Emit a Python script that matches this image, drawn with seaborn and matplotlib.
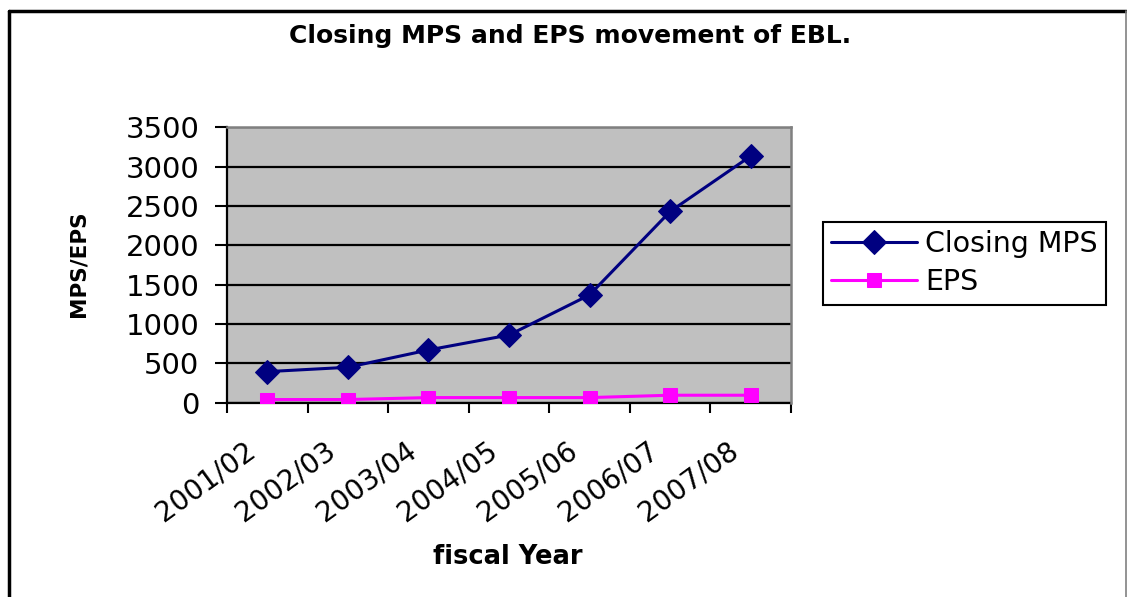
import matplotlib
matplotlib.use("Agg")
import matplotlib.pyplot as plt
import matplotlib.transforms as mtransforms
from matplotlib.lines import Line2D
import seaborn as sns
import pandas as pd

# ---- data ----
years = ["2001/02", "2002/03", "2003/04", "2004/05", "2005/06", "2006/07", "2007/08"]
closing_mps = [395, 450, 670, 860, 1370, 2430, 3135]
eps = [40, 40, 65, 65, 65, 95, 95]
series_names = ["Closing MPS", "EPS"]
y_ticks = [0, 500, 1000, 1500, 2000, 2500, 3000, 3500]

title_text = "Closing MPS and EPS movement of EBL."
x_label = "fiscal Year"
y_label = "MPS/EPS"

df = pd.DataFrame({
    "year": years * 2,
    "value": closing_mps + eps,
    "series": [series_names[0]] * len(years) + [series_names[1]] * len(years),
})

sns.set_theme(style="white")
plt.rcParams["font.family"] = ["DejaVu Sans"]
plt.rcParams["text.color"] = "black"
plt.rcParams["axes.labelcolor"] = "black"
plt.rcParams["xtick.color"] = "black"
plt.rcParams["ytick.color"] = "black"

fig = plt.figure(figsize=(11.27, 5.97), dpi=100)
W, H = 1127, 597
ax = fig.add_axes([227 / W, 1 - 402.7 / H, (791 - 227) / W, (402.7 - 127.3) / H])
ax.set_facecolor("#C0C0C0")

palette = {"Closing MPS": "#000080", "EPS": "#FF00FF"}
markers = {"Closing MPS": "D", "EPS": "s"}
sizes = {"Closing MPS": 12, "EPS": 10.5}

for name in series_names:
    sub = df[df["series"] == name]
    sns.lineplot(data=sub, x="year", y="value", ax=ax, color=palette[name],
                 marker=markers[name], markersize=sizes[name],
                 markeredgecolor=palette[name], linewidth=2.2,
                 label=name, sort=False, zorder=3)

ax.set_xlim(-0.5, len(years) - 0.5)
ax.set_ylim(0, 3500)
ax.set_yticks(y_ticks)
ax.set_yticklabels([str(t) for t in y_ticks])

# grid
ax.set_axisbelow(True)
ax.yaxis.grid(True, color="black", linewidth=1.6)
ax.xaxis.grid(False)

# spines
for s in ["left", "bottom"]:
    ax.spines[s].set_color("black")
    ax.spines[s].set_linewidth(1.6)
for s in ["top", "right"]:
    ax.spines[s].set_color("#808080")
    ax.spines[s].set_linewidth(1.8)
    ax.spines[s].set_zorder(2.6)

# ticks
ax.tick_params(axis="y", which="major", direction="out", length=9, width=1.5,
               color="black", labelsize=21, pad=11, left=True, labelcolor="black")
ax.set_xticks(range(len(years)))
ax.set_xticklabels(years)
ax.set_xticks([i - 0.5 for i in range(len(years) + 1)], minor=True)
ax.tick_params(axis="x", which="major", length=0, labelsize=20, pad=32,
               labelcolor="black")
ax.tick_params(axis="x", which="minor", direction="out", length=7, width=1.5,
               color="black", bottom=True)
offset = mtransforms.ScaledTranslation(-0.15, 0, fig.dpi_scale_trans)
for lab in ax.get_xticklabels():
    lab.set_rotation(36)
    lab.set_ha("right")
    lab.set_va("center")
    lab.set_rotation_mode("anchor")
    lab.set_transform(lab.get_transform() + offset)

# axis labels
ax.set_xlabel(x_label, fontsize=18.5, fontweight="bold", color="black")
ax.xaxis.set_label_coords((508 - 227) / 564, -(544 - 402.7) / 275.4)
ax.set_ylabel(y_label, fontsize=15.5, fontweight="bold", color="black")
ax.yaxis.set_label_coords((88 - 227) / 564, (402.7 - 264) / 275.4)

# title
fig.text(570 / W, 1 - 43 / H, title_text, ha="center", va="baseline",
         fontsize=18, fontweight="bold", color="black")

# legend
handles, labels = ax.get_legend_handles_labels()
leg = ax.legend(handles, labels, loc="upper left",
                bbox_to_anchor=(822.7 / W, 1 - 221.7 / H),
                bbox_transform=fig.transFigure, borderaxespad=0,
                fontsize=20.5, handlelength=3.0, frameon=True, fancybox=False,
                shadow=False, edgecolor="black", framealpha=1,
                borderpad=0.3, labelspacing=0.35, handletextpad=0.3)
leg.get_frame().set_linewidth(1.5)
for t in leg.get_texts():
    t.set_color("black")

# outer chart border
fig.add_artist(Line2D([9 / W, 9 / W], [0, 1 - 11 / H], transform=fig.transFigure,
                      color="black", linewidth=2.5))
fig.add_artist(Line2D([9 / W, 1126 / W], [1 - 11 / H, 1 - 11 / H],
                      transform=fig.transFigure, color="black", linewidth=2.5))
fig.add_artist(Line2D([1125.5 / W, 1125.5 / W], [0, 1 - 11 / H],
                      transform=fig.transFigure, color="#808080", linewidth=1.2))

fig.savefig("out.png", dpi=100, facecolor="white")
